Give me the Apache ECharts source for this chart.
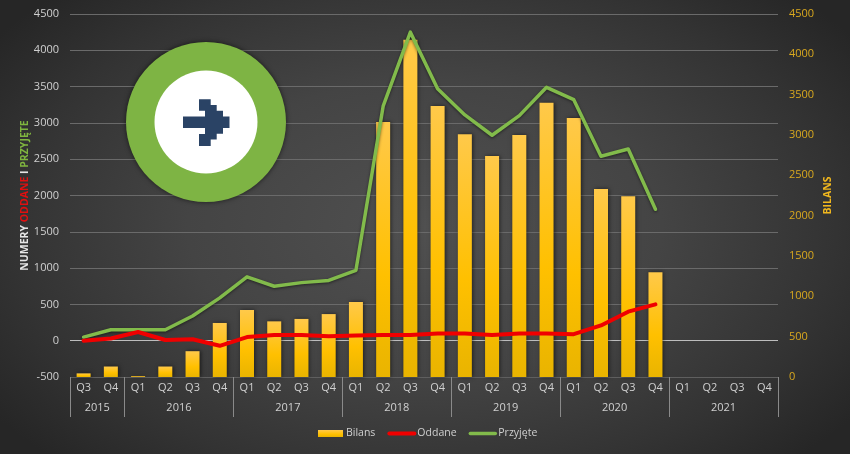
<!DOCTYPE html>
<html><head><meta charset="utf-8">
<style>
html,body{margin:0;padding:0;width:850px;height:454px;overflow:hidden;background:#2a2a2a}
#c{width:850px;height:454px;background:radial-gradient(ellipse 62% 72% at 50% 50%,#505050 0%,#444 45%,#333 78%,#262626 100%)}
</style>
<script src="https://cdn.jsdelivr.net/npm/echarts@6/dist/echarts.min.js"></script>
</head><body><div id="c"></div>
<script>
const quarters = ["Q3","Q4","Q1","Q2","Q3","Q4","Q1","Q2","Q3","Q4","Q1","Q2","Q3","Q4","Q1","Q2","Q3","Q4","Q1","Q2","Q3","Q4","Q1","Q2","Q3","Q4"];
const years = ["2015","2016","2017","2018","2019","2020","2021"];
const yearLengths = [2,4,4,4,4,4,4];
const bilans = [45,130,10,130,320,670,830,690,720,780,930,3160,4180,3360,3010,2740,3000,3400,3210,2330,2240,1300,null,null,null,null];
const oddane = [0,30,120,10,20,-70,50,80,80,60,70,80,80,100,100,80,100,100,90,210,400,500,null,null,null,null];
const przyjete = [50,150,150,150,340,590,880,750,800,830,970,3230,4250,3470,3110,2830,3100,3490,3320,2540,2640,1810,null,null,null,null];

const font = '"Open Sans", sans-serif';
const white = '#d0d0d0', gold = '#d9a81e';
let acc = 0; const yearEdges = [0], yearCenters = [];
yearLengths.forEach(n => { yearCenters.push(acc + n / 2); acc += n; yearEdges.push(acc); });
const plain = v => String(v);
const noDot = {color: 'rgba(0,0,0,0)', borderWidth: 0};

const chart = echarts.init(document.getElementById('c'), null, {renderer: 'canvas'});
const arrow = [[183,116.5],[205,116.5],[205,110.7],[199,110.7],[199,99.3],[210.7,99.3],[210.7,105],[216.7,105],[216.7,110.7],[223,110.7],[223,116.5],[229.5,116.5],[229.5,128],[223,128],[223,133.8],[216.7,133.8],[216.7,139.5],[210.7,139.5],[210.7,146],[199,146],[199,134],[205,134],[205,128],[183,128]];
chart.setOption({
  backgroundColor: 'transparent',
  animation: false,
  textStyle: {fontFamily: font},
  grid: {left: 70, right: 72, top: 14, height: 363},
  legend: {
    data: [{name: 'Bilans', icon: 'rect'},
           {name: 'Oddane', itemStyle: noDot, lineStyle: {width: 4, shadowBlur: 0}},
           {name: 'Przyjęte', itemStyle: noDot, lineStyle: {width: 3.5, shadowBlur: 0}}],
    top: 428, left: 318, itemWidth: 25, itemHeight: 7, itemGap: 12,
    padding: 0, textStyle: {color: white, fontSize: 10.5, fontFamily: font, padding: [0,0,0,-2]}
  },
  xAxis: [
    {type: 'category', data: quarters, position: 'bottom', axisLine: {show: false, onZero: false}, axisTick: {show: false},
      axisLabel: {color: white, fontSize: 11, interval: 0, margin: 5}, splitLine: {show: false}},
    {type: 'value', min: 0, max: 26, position: 'bottom', axisLine: {show: false, onZero: false},
      axisTick: {show: true, length: 40, lineStyle: {color: '#8a8a8a'}, customValues: yearEdges},
      axisLabel: {show: false}, splitLine: {show: false}},
    {type: 'value', min: 0, max: 26, position: 'bottom', axisLine: {show: false, onZero: false}, axisTick: {show: false},
      axisLabel: {color: white, fontSize: 11, margin: 25, customValues: yearCenters,
        formatter: v => years[yearCenters.indexOf(v)]}, splitLine: {show: false}}
  ],
  yAxis: [
    {type: 'value', min: -500, max: 4500, interval: 500, position: 'left',
      axisLine: {show: false}, axisTick: {show: false},
      axisLabel: {color: white, fontSize: 11, margin: 11, formatter: plain},
      splitLine: {show: true, lineStyle: {width: 1, color: ['#5f5f5f','#bdbdbd','#6a6a6a','#6a6a6a','#6a6a6a','#6a6a6a','#6a6a6a','#6a6a6a','#6a6a6a','#6a6a6a','#6a6a6a']}},
      name: '{w|NUMERY }{r|ODDANE}{w| I }{g|PRZYJĘTE}', nameLocation: 'middle', nameGap: 39, nameRotate: 90, nameMoveOverlap: false,
      nameTextStyle: {rich: {
        w: {color: '#e6e6e6', fontSize: 10.5, fontWeight: 'bold', fontFamily: font},
        r: {color: '#e01010', fontSize: 10.5, fontWeight: 'bold', fontFamily: font},
        g: {color: '#7fb53f', fontSize: 10.5, fontWeight: 'bold', fontFamily: font}}}},
    {type: 'value', min: 0, max: 4500, interval: 500, position: 'right',
      axisLine: {show: false}, axisTick: {show: false}, splitLine: {show: false},
      axisLabel: {color: gold, fontSize: 11, margin: 11, formatter: plain},
      name: 'BILANS', nameLocation: 'middle', nameGap: 45, nameRotate: 90, nameMoveOverlap: false,
      nameTextStyle: {color: '#f0b71e', fontSize: 10.5, fontWeight: 'bold', fontFamily: font}}
  ],
  series: [
    {name: 'Bilans', type: 'bar', yAxisIndex: 1, data: bilans, barWidth: 14, z: 2,
      itemStyle: {shadowBlur: 4, shadowColor: 'rgba(0,0,0,0.55)', shadowOffsetX: 1, shadowOffsetY: 0,
        color: {type: 'linear', x: 0, y: 0, x2: 0, y2: 1, colorStops: [{offset: 0, color: '#ffc94a'},{offset: 0.6, color: '#ffc000'},{offset: 1, color: '#e9b400'}]}}},
    {name: 'Oddane', type: 'line', yAxisIndex: 0, data: oddane, symbol: 'none', z: 4,
      lineStyle: {color: '#f00000', width: 4, cap: 'round', join: 'round'}, itemStyle: {color: '#f00000'}},
    {name: 'Przyjęte', type: 'line', yAxisIndex: 0, data: przyjete, symbol: 'none', z: 3,
      lineStyle: {color: '#82bb4b', width: 3.5, cap: 'round', join: 'round', shadowBlur: 3, shadowColor: 'rgba(0,0,0,0.5)', shadowOffsetY: 1}, itemStyle: {color: '#82bb4b'}}
  ],
  graphic: [
    {type: 'circle', z: 10, shape: {cx: 206, cy: 122, r: 80}, style: {fill: '#7eb444', shadowBlur: 5, shadowColor: 'rgba(0,0,0,0.6)'}},
    {type: 'circle', z: 11, shape: {cx: 206, cy: 122, r: 51.5}, style: {fill: '#ffffff'}},
    {type: 'polygon', z: 12, shape: {points: arrow}, style: {fill: '#2a4365'}}
  ]
});
</script></body></html>
